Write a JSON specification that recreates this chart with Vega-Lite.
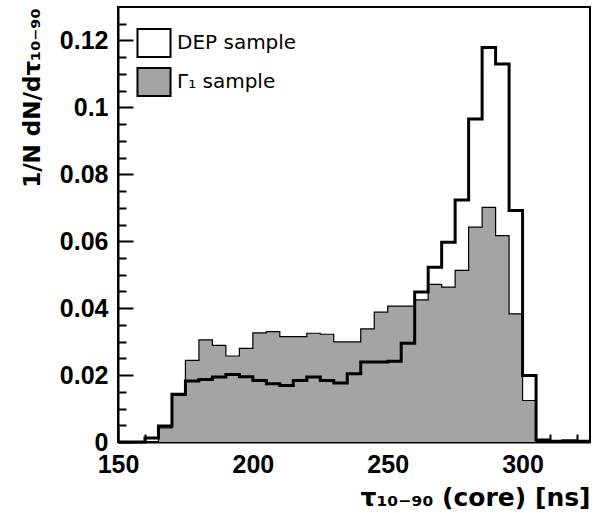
{
  "$schema": "https://vega.github.io/schema/vega-lite/v6.json",
  "autosize": "none",
  "width": 472,
  "height": 435,
  "padding": {"left": 118, "top": 7, "right": 4, "bottom": 71},
  "background": "white",
  "config": {
    "view": {"stroke": "#000", "strokeWidth": 2},
    "axis": {"grid": false, "domainColor": "#000", "domainWidth": 2, "tickColor": "#000", "tickWidth": 2, "labelColor": "#000", "titleColor": "#000"}
  },
  "data": {"values": [
    {"t": 150, "s": "DEP sample", "v": 0},
    {"t": 155, "s": "DEP sample", "v": 0},
    {"t": 160, "s": "DEP sample", "v": 0.0012},
    {"t": 165, "s": "DEP sample", "v": 0.0048},
    {"t": 170, "s": "DEP sample", "v": 0.0143},
    {"t": 175, "s": "DEP sample", "v": 0.0182},
    {"t": 180, "s": "DEP sample", "v": 0.0187},
    {"t": 185, "s": "DEP sample", "v": 0.0194},
    {"t": 190, "s": "DEP sample", "v": 0.0202},
    {"t": 195, "s": "DEP sample", "v": 0.0195},
    {"t": 200, "s": "DEP sample", "v": 0.0184},
    {"t": 205, "s": "DEP sample", "v": 0.0174},
    {"t": 210, "s": "DEP sample", "v": 0.0169},
    {"t": 215, "s": "DEP sample", "v": 0.0184},
    {"t": 220, "s": "DEP sample", "v": 0.0194},
    {"t": 225, "s": "DEP sample", "v": 0.0184},
    {"t": 230, "s": "DEP sample", "v": 0.0176},
    {"t": 235, "s": "DEP sample", "v": 0.0204},
    {"t": 240, "s": "DEP sample", "v": 0.0239},
    {"t": 245, "s": "DEP sample", "v": 0.0239},
    {"t": 250, "s": "DEP sample", "v": 0.0241},
    {"t": 255, "s": "DEP sample", "v": 0.0295},
    {"t": 260, "s": "DEP sample", "v": 0.0448},
    {"t": 265, "s": "DEP sample", "v": 0.0522},
    {"t": 270, "s": "DEP sample", "v": 0.0597},
    {"t": 275, "s": "DEP sample", "v": 0.0723},
    {"t": 280, "s": "DEP sample", "v": 0.0965},
    {"t": 285, "s": "DEP sample", "v": 0.1179},
    {"t": 290, "s": "DEP sample", "v": 0.1130},
    {"t": 295, "s": "DEP sample", "v": 0.0692},
    {"t": 300, "s": "DEP sample", "v": 0.0199},
    {"t": 305, "s": "DEP sample", "v": 0.0006},
    {"t": 310, "s": "DEP sample", "v": 0.0002},
    {"t": 315, "s": "DEP sample", "v": 0.0004},
    {"t": 320, "s": "DEP sample", "v": 0.0002},
    {"t": 325, "s": "DEP sample", "v": 0.0002},
    {"t": 160, "s": "Γ₁ sample", "v": 0},
    {"t": 165, "s": "Γ₁ sample", "v": 0.0042},
    {"t": 170, "s": "Γ₁ sample", "v": 0.0140},
    {"t": 175, "s": "Γ₁ sample", "v": 0.0244},
    {"t": 180, "s": "Γ₁ sample", "v": 0.0305},
    {"t": 185, "s": "Γ₁ sample", "v": 0.0289},
    {"t": 190, "s": "Γ₁ sample", "v": 0.0257},
    {"t": 195, "s": "Γ₁ sample", "v": 0.0280},
    {"t": 200, "s": "Γ₁ sample", "v": 0.0326},
    {"t": 205, "s": "Γ₁ sample", "v": 0.0330},
    {"t": 210, "s": "Γ₁ sample", "v": 0.0315},
    {"t": 215, "s": "Γ₁ sample", "v": 0.0315},
    {"t": 220, "s": "Γ₁ sample", "v": 0.0325},
    {"t": 225, "s": "Γ₁ sample", "v": 0.0322},
    {"t": 230, "s": "Γ₁ sample", "v": 0.0299},
    {"t": 235, "s": "Γ₁ sample", "v": 0.0299},
    {"t": 240, "s": "Γ₁ sample", "v": 0.0338},
    {"t": 245, "s": "Γ₁ sample", "v": 0.0388},
    {"t": 250, "s": "Γ₁ sample", "v": 0.0406},
    {"t": 255, "s": "Γ₁ sample", "v": 0.0406},
    {"t": 260, "s": "Γ₁ sample", "v": 0.0425},
    {"t": 265, "s": "Γ₁ sample", "v": 0.0471},
    {"t": 270, "s": "Γ₁ sample", "v": 0.0463},
    {"t": 275, "s": "Γ₁ sample", "v": 0.0513},
    {"t": 280, "s": "Γ₁ sample", "v": 0.0642},
    {"t": 285, "s": "Γ₁ sample", "v": 0.0701},
    {"t": 290, "s": "Γ₁ sample", "v": 0.0617},
    {"t": 295, "s": "Γ₁ sample", "v": 0.0383},
    {"t": 300, "s": "Γ₁ sample", "v": 0.0124},
    {"t": 305, "s": "Γ₁ sample", "v": 0}
  ]},
  "resolve": {"axis": {"x": "independent", "y": "independent"}},
  "layer": [
    {
      "transform": [{"filter": "datum.s === 'Γ₁ sample'"}],
      "mark": {"type": "area", "interpolate": "step-after", "opacity": 1},
      "encoding": {
        "x": {"field": "t", "type": "quantitative", "scale": {"domain": [150, 325], "nice": false, "zero": false},
          "axis": {"values": [150, 200, 250, 300], "tickSize": -15, "labelPadding": 25, "labelFlush": false, "labelFont": "Liberation Sans", "labelFontWeight": "bold", "labelFontSize": 25, "labelOverlap": false,
            "title": "τ₁₀₋₉₀ (core) [ns]", "titleFont": "DejaVu Sans", "titleFontWeight": "bold", "titleFontSize": 25, "titleAlign": "right", "titleAnchor": "end", "titleBaseline": "alphabetic", "titleX": 472, "titleY": 63}},
        "y": {"field": "v", "type": "quantitative", "stack": null, "scale": {"domain": [0, 0.13], "nice": false},
          "axis": {"values": [0, 0.02, 0.04, 0.06, 0.08, 0.1, 0.12], "format": "~g", "tickSize": -15, "labelPadding": 25, "labelFlush": false, "labelFont": "Liberation Sans", "labelFontWeight": "bold", "labelFontSize": 25, "labelOverlap": false,
            "title": "1/N dN/dτ₁₀₋₉₀", "titleFont": "DejaVu Sans", "titleFontWeight": "bold", "titleFontSize": 23, "titleAngle": -90, "titleAlign": "right", "titleAnchor": "end", "titleBaseline": "alphabetic", "titleX": -79, "titleY": 1}},
        "fill": {"field": "s", "type": "nominal", "scale": {"domain": ["DEP sample", "Γ₁ sample"], "range": ["#ffffff", "#a4a4a4"]},
          "legend": {"title": null, "orient": "top-left", "offset": 21, "symbolType": "M-1.18,-1H1.18V1H-1.18Z", "symbolSize": 784, "symbolStrokeColor": "#000", "symbolStrokeWidth": 2, "symbolOpacity": 1, "labelFont": "DejaVu Sans", "labelFontSize": 20, "labelColor": "#000", "labelOffset": 8, "rowPadding": 3, "padding": 0}}
      }
    },
    {
      "transform": [{"filter": "datum.s === 'Γ₁ sample'"}],
      "mark": {"type": "line", "interpolate": "step-after", "color": "#000", "strokeWidth": 1.2},
      "encoding": {
        "x": {"field": "t", "type": "quantitative", "axis": {"orient": "bottom", "values": [160, 170, 180, 190, 210, 220, 230, 240, 260, 270, 280, 290, 310, 320], "tickSize": -8, "labels": false, "domain": false, "title": null}},
        "y": {"field": "v", "type": "quantitative", "axis": {"orient": "left", "values": [0.005, 0.01, 0.015, 0.025, 0.03, 0.035, 0.045, 0.05, 0.055, 0.065, 0.07, 0.075, 0.085, 0.09, 0.095, 0.105, 0.11, 0.115, 0.125], "tickSize": -8, "labels": false, "domain": false, "title": null}}
      }
    },
    {
      "transform": [{"filter": "datum.s === 'DEP sample'"}],
      "mark": {"type": "line", "interpolate": "step-after", "color": "#000", "strokeWidth": 3},
      "encoding": {
        "x": {"field": "t", "type": "quantitative", "axis": null},
        "y": {"field": "v", "type": "quantitative", "axis": null}
      }
    }
  ]
}
